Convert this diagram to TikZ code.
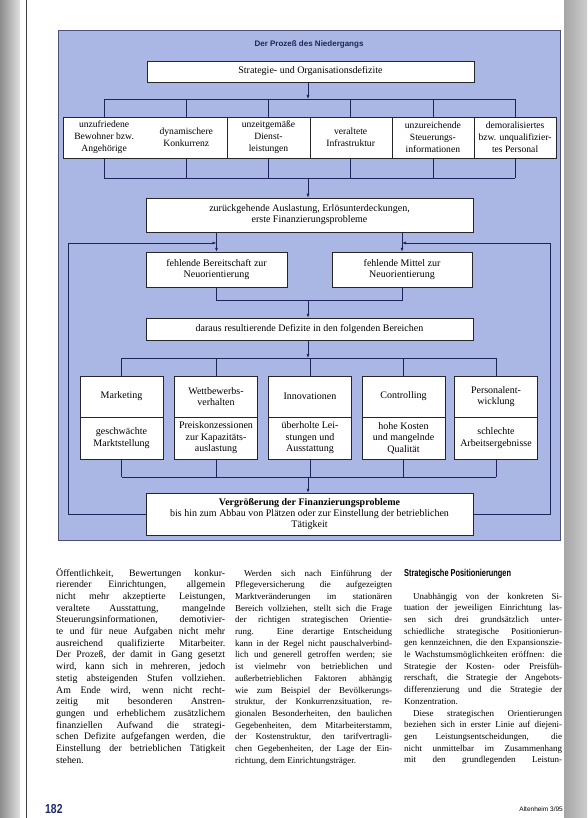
\documentclass[tikz,border=0pt]{standalone}
\usepackage{fontspec}
\setmainfont{Liberation Serif}
\setsansfont{Liberation Sans}
\usetikzlibrary{arrows.meta,calc}
\definecolor{panel}{RGB}{170,182,228}
\definecolor{navy}{RGB}{30,36,90}
\definecolor{footblue}{RGB}{28,40,110}
\begin{document}
\begin{tikzpicture}[x=1pt,y=-1pt,
  box/.style={draw=black!85,line width=0.5pt,fill=white,inner sep=1pt,align=center,font=\fontsize{10}{11}\selectfont},
  cell/.style={inner sep=0pt,align=center,minimum width=82.2pt,minimum height=41pt,font=\fontsize{9.6}{12}\selectfont},
  ecell/.style={draw=black!85,line width=0.5pt,fill=white,inner sep=0pt,align=center,minimum width=83pt,font=\fontsize{10}{11.5}\selectfont},
  conn/.style={draw=navy,line width=0.6pt},
  arr/.style={conn,-{Latex[length=4pt,width=3pt]}},
  coltext/.style={anchor=base west,inner sep=0pt},
]
\useasboundingbox (0,0) rectangle (587,818);
\fill[white] (0,0) rectangle (587,818);
% scan margins
\shade[left color=black!45,right color=black!12] (0,0) rectangle (20,818);
\draw[black!75,line width=0.8pt] (26,0) -- (26,818);
\shade[left color=black!35,right color=black!20] (564,0) rectangle (587,818);

% panel
\node[fill=panel,draw=navy!80,line width=0.5pt,minimum width=502pt,minimum height=510pt,anchor=north west,inner sep=0pt] (panel) at (58,30) {};
\node[font=\sffamily\bfseries\fontsize{8}{9}\selectfont,text=navy] (title) at (309,44) {Der Prozeß des Niedergangs};

% level 1
\node[box,minimum width=327pt,minimum height=21pt] (A) at (310.5,71.5) {Strategie- und Organisationsdefizite};
\coordinate (bus1) at (308,99);

% six causes
\node[draw=black!85,line width=0.5pt,fill=white,minimum width=493pt,minimum height=41pt,inner sep=0pt,anchor=north west] (row) at (63,117) {};
\node[cell] (c1) at (104.1,137.5) {unzufriedene\\Bewohner bzw.\\Angehörige};
\node[cell] (c2) at (186.3,137.5) {dynamischere\\Konkurrenz};
\node[cell] (c3) at (268.5,137.5) {unzeitgemäße\\Dienst-\\leistungen};
\node[cell] (c4) at (350.7,137.5) {veraltete\\Infrastruktur};
\node[cell] (c5) at (432.9,137.5) {unzureichende\\Steuerungs-\\informationen};
\node[cell] (c6) at (515.1,137.5) {demoralisiertes\\bzw. unqualifizier-\\tes Personal};
\foreach \c in {c2,c3,c4,c5} \draw[black!85,line width=0.5pt] (\c.north east) -- (\c.south east);

\draw[arr] (A.south -| bus1) -- (bus1);
\draw[conn] (c1.north |- bus1) -- (c6.north |- bus1);
\foreach \c in {c1,c2,c3,c4,c5,c6} \draw[conn] (\c.north |- bus1) -- (\c.north);

\coordinate (bus2) at (308,178);
\foreach \c in {c1,c2,c3,c4,c5,c6} \draw[conn] (\c.south) -- (\c.south |- bus2);
\draw[conn] (c1.south |- bus2) -- (c6.south |- bus2);

\node[box,minimum width=327pt,minimum height=34pt] (B) at (309.5,215) {zurückgehende Auslastung, Erlösunterdeckungen,\\erste Finanzierungsprobleme};
\draw[arr] (bus2) -- (bus2 |- B.north);

\node[box,minimum width=141pt,minimum height=35pt] (C1) at (216.5,269.5) {fehlende Bereitschaft zur\\Neuorientierung};
\node[box,minimum width=140pt,minimum height=35pt] (C2) at (402,269.5) {fehlende Mittel zur\\Neuorientierung};
\draw[arr] (B.south -| C1.north) -- (C1.north);
\draw[arr] (B.south -| C2.north) -- (C2.north);

\coordinate (bus3) at (308,300);
\draw[conn] (C1.south) -- (C1.south |- bus3) -- (C2.south |- bus3) -- (C2.south);
\node[box,minimum width=327pt,minimum height=22pt] (D) at (309.5,329) {daraus resultierende Defizite in den folgenden Bereichen};
\draw[arr] (bus3) -- (bus3 |- D.north);

% five areas
\foreach \i/\x/\up/\lo in {1/121.5/Marketing/{geschwächte\\Marktstellung},
  2/216/{Wettbewerbs-\\verhalten}/{Preiskonzessionen\\zur Kapazitäts-\\auslastung},
  3/310/Innovationen/{überholte Lei-\\stungen und\\Ausstattung},
  4/403.5/Controlling/{hohe Kosten\\und mangelnde\\Qualität},
  5/496/{Personalent-\\wicklung}/{schlechte\\Arbeitsergebnisse}}{
  \node[ecell,minimum height=41pt] (Et\i) at (\x,396.5) {\up};
  \node[ecell,minimum height=42pt] (Eb\i) at (\x,438) {\lo};
}
\coordinate (bus4) at (308,358);
\draw[arr] (D.south -| bus4) -- (bus4);
\draw[conn] (Et1.north |- bus4) -- (Et5.north |- bus4);
\foreach \i in {1,...,5} \draw[conn] (Et\i.north |- bus4) -- (Et\i.north);

\coordinate (bus5) at (308,477);
\foreach \i in {1,...,5} \draw[conn] (Eb\i.south) -- (Eb\i.south |- bus5);
\draw[conn] (Eb1.south |- bus5) -- (Eb5.south |- bus5);

\node[box,minimum width=327pt,minimum height=42pt] (F) at (309.5,514) {{\bfseries Vergrößerung der Finanzierungsprobleme}\\bis hin zum Abbau von Plätzen oder zur Einstellung der betrieblichen\\Tätigkeit};
\draw[arr] (bus5) -- (bus5 |- F.north);

% feedback loops
\coordinate (fbL) at (68,243);
\coordinate (fbR) at (550,243);
\draw[arr] (F.west) -- (F.west -| fbL) -- (fbL) -- (fbL -| C1.north);
\draw[arr] (F.east) -- (F.east -| fbR) -- (fbR) -- (fbR -| C2.north);

% text columns
\node[coltext] (t1) at (56,576) {\parbox[t]{169pt}{\fontsize{9.8}{11.7}\selectfont
Öffentlichkeit, Bewertungen konkur-\linebreak
rierender Einrichtungen, allgemein\linebreak
nicht mehr akzeptierte Leistungen,\linebreak
veraltete Ausstattung, mangelnde\linebreak
Steuerungsinformationen, demotivier-\linebreak
te und für neue Aufgaben nicht mehr\linebreak
ausreichend qualifizierte Mitarbeiter.\linebreak
Der Prozeß, der damit in Gang gesetzt\linebreak
wird, kann sich in mehreren, jedoch\linebreak
stetig absteigenden Stufen vollziehen.\linebreak
Am Ende wird, wenn nicht recht-\linebreak
zeitig mit besonderen Anstren-\linebreak
gungen und erheblichem zusätzlichem\linebreak
finanziellen Aufwand die strategi-\linebreak
schen Defizite aufgefangen werden, die\linebreak
Einstellung der betrieblichen Tätigkeit\linebreak
stehen.}};

\node[coltext] (t2) at (235,576) {\parbox[t]{157pt}{\fontsize{9}{11.7}\selectfont
\hspace*{1em}Werden sich nach Einführung der\linebreak
Pflegeversicherung die aufgezeigten\linebreak
Marktveränderungen im stationären\linebreak
Bereich vollziehen, stellt sich die Frage\linebreak
der richtigen strategischen Orientie-\linebreak
rung. Eine derartige Entscheidung\linebreak
kann in der Regel nicht pauschalverbind-\linebreak
lich und generell getroffen werden; sie\linebreak
ist vielmehr von betrieblichen und\linebreak
außerbetrieblichen Faktoren abhängig\linebreak
wie zum Beispiel der Bevölkerungs-\linebreak
struktur, der Konkurrenzsituation, re-\linebreak
gionalen Besonderheiten, den baulichen\linebreak
Gegebenheiten, dem Mitarbeiterstamm,\linebreak
der Kostenstruktur, den tarifvertragli-\linebreak
chen Gegebenheiten, der Lage der Ein-\linebreak
richtung, dem Einrichtungsträger.}};

\node[coltext,font=\sffamily\bfseries\fontsize{10}{12}\selectfont] (h3) at (404,576) {\scalebox{0.74}[1]{Strategische Positionierungen}};

\node[coltext] (t3) at (404,599) {\parbox[t]{158pt}{\fontsize{9}{11.7}\selectfont
\hspace*{1em}Unabhängig von der konkreten Si-\linebreak
tuation der jeweiligen Einrichtung las-\linebreak
sen sich drei grundsätzlich unter-\linebreak
schiedliche strategische Positionierun-\linebreak
gen kennzeichnen, die den Expansionszie-\linebreak
le Wachstumsmöglichkeiten eröffnen: die\linebreak
Strategie der Kosten- oder Preisfüh-\linebreak
rerschaft, die Strategie der Angebots-\linebreak
differenzierung und die Strategie der\linebreak
Konzentration.\par
{\parfillskip=0pt
\hspace*{1em}Diese strategischen Orientierungen\linebreak
beziehen sich in erster Linie auf diejeni-\linebreak
gen Leistungsentscheidungen, die\linebreak
nicht unmittelbar im Zusammenhang\linebreak
mit den grundlegenden Leistun-\par}}};

% footer
\node[coltext,font=\sffamily\bfseries\fontsize{13}{13}\selectfont,text=footblue] (pg) at (45,813) {\scalebox{0.8}[1]{182}};
\node[anchor=base east,inner sep=0pt,font=\sffamily\fontsize{6.5}{8}\selectfont] (mag) at (563,811) {Altenheim 3/95};
\end{tikzpicture}
\end{document}
